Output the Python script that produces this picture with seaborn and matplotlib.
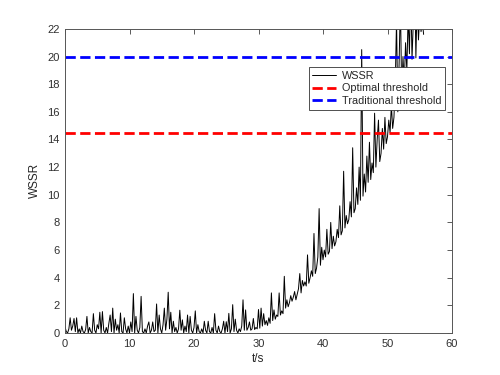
import matplotlib
matplotlib.use("Agg")
import matplotlib.pyplot as plt
import seaborn as sns
import numpy as np
import pandas as pd

dt = 0.2
wssr = [
    0.45, 0.1, 0.0, 0.3, 1.1,
    0.2, 0.5, 1.05, 0.1, 1.1,
    0.0, 0.3, 0.0, 0.5, 0.1,
    0.0, 0.25, 1.2, 0.0, 0.4,
    0.1, 0.0, 1.4, 0.2, 0.0,
    0.6, 0.3, 1.5, 0.0, 1.55,
    0.2, 0.0, 0.4, 0.0, 0.7,
    1.3, 0.1, 1.8, 0.0, 1.0,
    0.2, 0.6, 0.0, 1.45, 0.1,
    0.0, 1.1, 0.3, 0.0, 0.5,
    0.0, 0.8, 0.1, 2.85, 0.0,
    1.2, 0.2, 0.0, 0.4, 2.65,
    0.1, 0.0, 0.3, 0.0, 0.5,
    0.8, 0.0, 0.2, 0.8, 0.1,
    0.2, 2.1, 0.0, 1.3, 0.3,
    0.0, 0.6, 1.8, 0.2, 1.0,
    2.95, 0.3, 1.5, 0.0, 0.85,
    0.1, 0.4, 0.0, 0.3, 1.65,
    0.2, 0.95, 0.0, 0.5, 0.1,
    1.3, 0.0, 1.2, 0.2, 0.0,
    0.4, 1.6, 0.0, 0.6, 0.1,
    0.0, 0.3, 0.0, 0.85, 0.2,
    0.0, 0.85, 0.1, 0.0, 0.4,
    0.0, 1.4, 0.2, 0.0, 0.5,
    0.1, 0.0, 0.3, 0.85, 0.0,
    0.82, 0.1, 1.42, 0.0, 0.3,
    2.05, 0.1, 1.0, 0.2, 0.0,
    0.3, 0.1, 0.5, 2.4, 0.2,
    1.67, 0.2, 0.4, 0.8, 0.2,
    0.3, 1.05, 0.25, 0.4, 0.3,
    1.7, 0.35, 1.8, 0.5, 1.4,
    0.6, 0.9, 0.55, 1.1, 0.7,
    2.9, 0.9, 1.67, 1.0, 1.3,
    1.2, 2.9, 1.3, 1.6, 1.4,
    4.1, 1.8, 2.4, 1.9, 2.2,
    2.7, 2.3, 2.6, 3.0, 2.4,
    2.8, 3.2, 4.3, 2.9, 3.8,
    3.4, 3.7, 3.4, 5.65, 3.6,
    4.0, 4.5, 4.1, 7.2, 4.3,
    4.7, 5.5, 9.0, 4.9, 6.2,
    5.3, 6.0, 5.5, 7.5, 5.7,
    5.9, 8.0, 6.1, 7.0, 6.3,
    6.6, 7.5, 6.9, 9.2, 7.1,
    7.4, 11.7, 7.6, 8.5, 7.9,
    8.2, 9.5, 8.4, 13.4, 8.7,
    9.0, 10.5, 9.3, 12.0, 9.6,
    20.5, 9.9, 11.5, 10.2, 12.8,
    10.9, 13.8, 11.1, 12.3, 11.6,
    15.9, 12.0, 14.0, 15.4, 12.4,
    13.0, 14.8, 13.3, 15.6, 13.7,
    14.2, 15.4, 14.5, 16.5, 14.8,
    15.6, 18.0, 22.6, 16.0, 19.5,
    24.0, 17.3, 20.0, 18.0, 21.0,
    19.0, 23.0, 20.2, 25.0, 19.8,
    22.5, 26.0, 19.9, 24.0, 21.2,
    23.0, 21.8, 22.5, 21.6,
]
optimal_threshold = 14.5
traditional_threshold = 20
xticks = [0, 10, 20, 30, 40, 50, 60]
yticks = [0, 2, 4, 6, 8, 10, 12, 14, 16, 18, 20, 22]

df = pd.DataFrame({"t": np.arange(len(wssr)) * dt, "WSSR": wssr})

sns.set_theme(style="white")
plt.rcParams["font.family"] = ["Liberation Sans", "DejaVu Sans"]

fig = plt.figure(figsize=(5, 3.75), dpi=100)
ax = fig.add_axes([0.13, 0.112, 0.774, 0.811])

sns.lineplot(data=df, x="t", y="WSSR", estimator=None, color="black",
             linewidth=0.7, ax=ax, label="WSSR")
ax.axhline(optimal_threshold, color="red", linestyle="--", linewidth=2,
           label="Optimal threshold")
ax.axhline(traditional_threshold, color="blue", linestyle="--", linewidth=2,
           label="Traditional threshold")

ax.set_xlim(0, 60)
ax.set_ylim(0, 22)
ax.set_xticks(xticks)
ax.set_yticks(yticks)
ax.set_xlabel("t/s", fontsize=8.5, color="#262626", labelpad=3)
ax.set_ylabel("WSSR", fontsize=8.5, color="#262626", labelpad=4)
ax.tick_params(direction="in", length=3.5, width=0.6, labelsize=8,
               colors="#404040", top=True, right=True, labelcolor="#303030",
               pad=4)
for sp in ax.spines.values():
    sp.set_visible(True)
    sp.set_color("#555555")
    sp.set_linewidth(0.7)

leg = ax.legend(loc="upper right", bbox_to_anchor=(0.982, 0.875),
                borderaxespad=0, fontsize=7.8, frameon=True, fancybox=False,
                framealpha=1, edgecolor="#333333", handlelength=2.2,
                borderpad=0.35, labelspacing=0.25, handletextpad=0.5)
leg.get_frame().set_linewidth(0.6)

fig.savefig("out.png", dpi=100)
